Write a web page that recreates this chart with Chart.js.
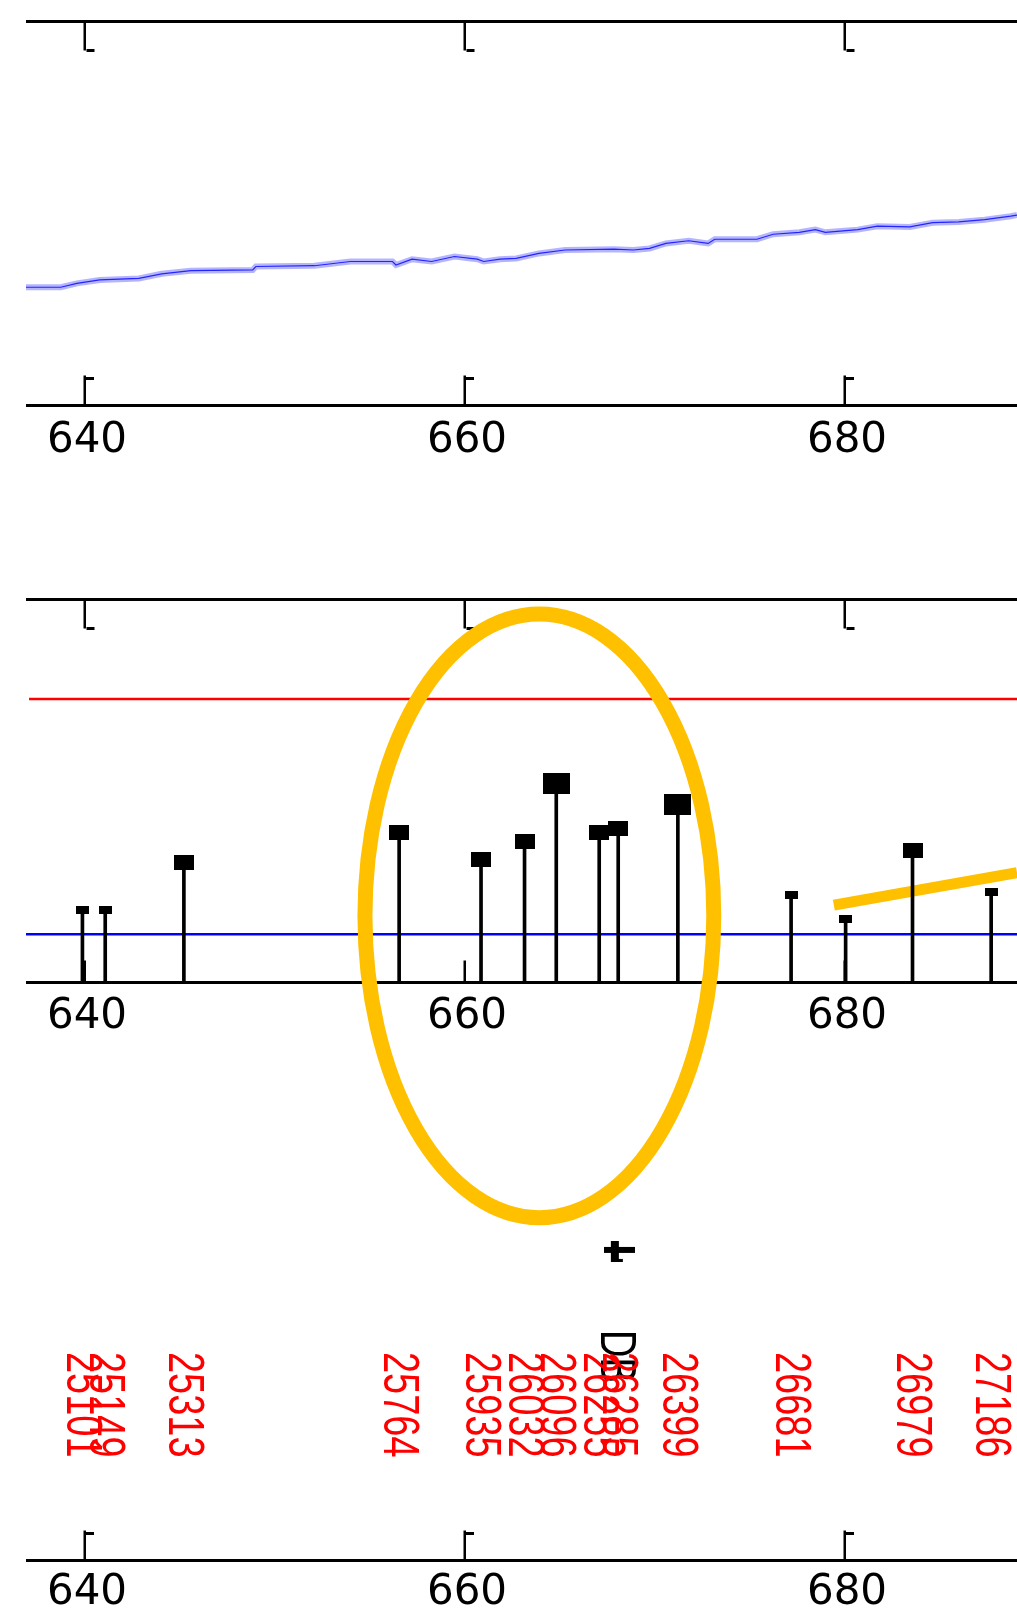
<!DOCTYPE html>
<html>
<head>
<meta charset="utf-8">
<title>stem plot</title>
<script src="https://cdn.jsdelivr.net/npm/chart.js@4.4.1/dist/chart.umd.min.js"></script>
<style>
  html, body { margin: 0; padding: 0; background: #fff; }
  body { width: 1017px; height: 1617px; position: relative; overflow: hidden; }
  canvas { position: absolute; left: 0; }
  #trace { top: 0; }
  #peaks { top: 480px; }
  #ids { top: 1150px; }
</style>
</head>
<body>
<canvas id="trace" width="1017" height="470"></canvas>
<canvas id="peaks" width="1017" height="790"></canvas>
<canvas id="ids" width="1017" height="467"></canvas>
<script>
/* three stacked panels sharing the same x range (636.9 .. 689) */
var X_MIN = 636.87, X_MAX = 689.03;
var TICKS = [640, 660, 680];

// panel 1 — slow drifting trace
var TRACE_X = [636.87, 638.70, 639.55, 640.75, 642.81, 644.01, 645.55, 648.80, 648.97, 652.05, 653.94, 656.16, 656.34, 657.19,
  658.22, 659.42, 660.62, 660.96, 661.82, 662.67, 663.87, 665.24, 667.81, 668.84, 669.69, 670.55, 671.75, 672.77, 673.12,
  675.34, 676.20, 677.57, 678.42, 678.94, 680.65, 681.68, 683.39, 684.59, 685.96, 687.33, 688.70, 689.03];
var TRACE_Y = [30.8, 30.8, 31.8, 32.7, 33.1, 34.3, 35.1, 35.3, 36.2, 36.4, 37.5, 37.5, 36.6, 38.1,
  37.5, 38.8, 38.1, 37.5, 38.1, 38.3, 39.6, 40.5, 40.7, 40.5, 40.9, 42.2, 42.9, 42.2, 43.3,
  43.3, 44.6, 45.1, 45.8, 45.1, 45.8, 46.7, 46.5, 47.6, 47.8, 48.4, 49.3, 49.6];

// panel 2 — events (stems), marker size class, limits
var STEM_X = [639.84, 641.04, 645.18, 656.51, 660.82, 663.11, 664.78, 667.04, 668.04, 671.18, 677.14, 680.01, 683.53, 687.67];
var STEM_Y = [18.8, 18.8, 31.4, 39.2, 32.1, 36.8, 52.0, 39.2, 40.1, 46.5, 22.8, 16.5, 34.5, 23.5];
var STEM_SIZE = [1, 1, 2, 2, 2, 2, 3, 2, 2, 3, 1, 1, 2, 1];
var UPPER_X = [637.03, 689.03], UPPER_Y = [74.0, 74.0];
var LOWER_X = [636.87, 689.03], LOWER_Y = [12.6, 12.6];
// hand-drawn highlight (ellipse bounds) and trend stroke, in data units
var RING_X = [654.71, 673.07], RING_Y = [-61.4, 96.2];
var TREND_X = [679.39, 689.03], TREND_Y = [20.2, 28.7];

// panel 3 — ids under the events
var ID_X = [639.84, 641.04, 645.18, 656.51, 660.82, 663.11, 664.78, 667.04, 668.04, 671.18, 677.14, 683.53, 687.67];
var ID_TEXT = ['25101', '25149', '25313', '25764', '25935', '26032', '26096', '26255', '26285', '26399', '26681', '26979', '27186'];
var ID_TOP = 54.4;
var NOTE_X = [667.95], NOTE_TEXT = ['DB'], NOTE_TOP = 60.1;
var CROSS_X = [668.1], CROSS_Y = [80.6];

function pts(xs, ys) { return xs.map(function (x, i) { return { x: x, y: ys[i] }; }); }

function block(w, h) {
  var c = document.createElement('canvas');
  c.width = w; c.height = h;
  var g = c.getContext('2d');
  g.fillStyle = '#000'; g.fillRect(0, 0, w, h);
  return c;
}
var BLOCKS = { 1: block(13, 8), 2: block(20, 15), 3: block(27, 21) };

function crossMark() {
  var c = document.createElement('canvas');
  c.width = 31; c.height = 21;
  var g = c.getContext('2d');
  g.fillStyle = '#000';
  g.fillRect(7, 0, 8, 21);
  g.fillRect(0, 6, 31, 6);
  g.fillRect(15, 18, 4, 3);
  return c;
}

// axis lines, inward ticks with small feet, tick labels
var frame = {
  id: 'frame',
  beforeDatasetsDraw: function (chart, args, o) {
    var ctx = chart.ctx, a = chart.chartArea, xs = chart.scales.x;
    ctx.save();
    ctx.strokeStyle = '#000'; ctx.fillStyle = '#000'; ctx.lineWidth = 3;
    ctx.beginPath();
    ctx.moveTo(a.left, a.bottom); ctx.lineTo(a.right, a.bottom);
    if (o.top) { ctx.moveTo(a.left, a.top); ctx.lineTo(a.right, a.top); }
    ctx.stroke();
    ctx.font = '42px "DejaVu Sans", sans-serif';
    ctx.textAlign = 'center'; ctx.textBaseline = 'middle';
    TICKS.forEach(function (t) {
      var x = Math.round(xs.getPixelForValue(t));
      ctx.fillRect(x - 1.5, a.bottom - o.tickLen, 2.5, o.tickLen);
      if (o.foot) ctx.fillRect(x + 1, a.bottom - o.tickLen + 1.5, 8, 3);
      if (o.top) {
        ctx.fillRect(x - 1.5, a.top, 2.5, 29);
        ctx.fillRect(x + 1.5, a.top + 27.5, 8, 3);
      }
      ctx.fillText(String(t), x + 2, a.bottom + o.gap);
    });
    ctx.restore();
  }
};

// ellipse + trend stroke go under the stems but over the limit lines
var marks = {
  id: 'marks',
  beforeDatasetDraw: function (chart, args, o) {
    if (!o.on || args.index !== 1) return;
    var ctx = chart.ctx, xs = chart.scales.x, ys = chart.scales.y;
    var x0 = xs.getPixelForValue(RING_X[0]), x1 = xs.getPixelForValue(RING_X[1]);
    var y0 = ys.getPixelForValue(RING_Y[1]), y1 = ys.getPixelForValue(RING_Y[0]);
    ctx.save();
    ctx.strokeStyle = '#ffc000';
    ctx.lineWidth = 15;
    ctx.beginPath();
    ctx.ellipse((x0 + x1) / 2, (y0 + y1) / 2, (x1 - x0) / 2, (y1 - y0) / 2, 0, 0, Math.PI * 2);
    ctx.stroke();
    ctx.lineWidth = 11; ctx.lineCap = 'butt';
    ctx.beginPath();
    ctx.moveTo(xs.getPixelForValue(TREND_X[0]), ys.getPixelForValue(TREND_Y[0]));
    ctx.lineTo(xs.getPixelForValue(TREND_X[1]), ys.getPixelForValue(TREND_Y[1]));
    ctx.stroke();
    ctx.restore();
  }
};

// vertical id labels (rotated, reading downward)
var ids = {
  id: 'ids',
  afterDatasetsDraw: function (chart, args, o) {
    if (!o.on) return;
    var ctx = chart.ctx, xs = chart.scales.x, ys = chart.scales.y;
    function column(text, xv, yv, color) {
      ctx.save();
      ctx.translate(xs.getPixelForValue(xv) - 1.5, ys.getPixelForValue(yv));
      ctx.rotate(Math.PI / 2);
      ctx.scale(0.76, 1);
      ctx.fillStyle = color;
      ctx.font = '50px "Liberation Sans", Arial, sans-serif';
      ctx.textAlign = 'left'; ctx.textBaseline = 'middle';
      ctx.fillText(text, 0, 0);
      ctx.restore();
    }
    NOTE_TEXT.forEach(function (t, i) { column(t, NOTE_X[i], NOTE_TOP, '#000'); });
    ID_TEXT.forEach(function (t, i) { column(t, ID_X[i], ID_TOP, '#ff0000'); });
  }
};

function opts(pad, fr, extra) {
  return {
    responsive: false, animation: false, devicePixelRatio: 1, events: [],
    layout: { padding: pad, autoPadding: false },
    plugins: {
      legend: { display: false }, tooltip: { enabled: false },
      frame: fr, marks: { on: !!(extra && extra.marks) }, ids: { on: !!(extra && extra.ids) }
    },
    scales: {
      x: { type: 'linear', display: false, min: X_MIN, max: X_MAX, offset: false },
      y: { type: 'linear', display: false, min: 0, max: 100 }
    }
  };
}

Chart.register(frame, marks, ids);

new Chart(document.getElementById('trace'), {
  type: 'scatter',
  data: { datasets: [
    { type: 'line', data: pts(TRACE_X, TRACE_Y), borderColor: '#2424ff', borderWidth: 1.2, pointRadius: 0, tension: 0, fill: false },
    { type: 'line', data: pts(TRACE_X, TRACE_Y), borderColor: 'rgba(120,120,255,0.55)', borderWidth: 6, pointRadius: 0, tension: 0, fill: false }
  ]},
  options: opts({ left: 26, right: 0, top: 21.5, bottom: 64.5 }, { top: true, tickLen: 30, foot: true, gap: 36 })
});

new Chart(document.getElementById('peaks'), {
  type: 'scatter',
  data: { datasets: [
    { data: pts(STEM_X, STEM_Y), pointRadius: 8, pointStyle: function (c) { return BLOCKS[STEM_SIZE[c.dataIndex]]; } },
    { type: 'bar', data: pts(STEM_X, STEM_Y), backgroundColor: '#000', barThickness: 3, grouped: false },
    { type: 'line', data: pts(UPPER_X, UPPER_Y), borderColor: '#ff0000', borderWidth: 2.5, pointRadius: 0, fill: false },
    { type: 'line', data: pts(LOWER_X, LOWER_Y), borderColor: '#0000ff', borderWidth: 2.5, pointRadius: 0, fill: false }
  ]},
  options: opts({ left: 26, right: 0, top: 119.5, bottom: 287.5 }, { top: true, tickLen: 22, foot: false, gap: 35 }, { marks: true })
});

new Chart(document.getElementById('ids'), {
  type: 'scatter',
  data: { datasets: [
    { data: pts(CROSS_X, CROSS_Y), pointRadius: 8, pointStyle: crossMark() }
  ]},
  options: opts({ left: 26, right: 0, top: 27, bottom: 56.5 }, { top: false, tickLen: 30, foot: true, gap: 33 }, { ids: true })
});
</script>
</body>
</html>
